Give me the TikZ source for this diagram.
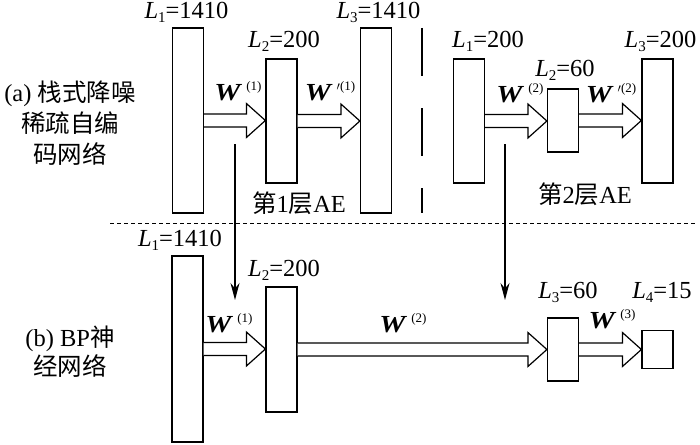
\documentclass[tikz,border=0pt]{standalone}
\usepackage{fontspec}
\setmainfont{Liberation Serif}
\newfontfamily\serifface{Liberation Serif}
\newfontfamily\cjk{Noto Sans CJK SC}
\usetikzlibrary{arrows.meta,calc}
\newcommand\Ll[2]{\textit{L}\raisebox{-4pt}{\fontsize{15}{15}\selectfont #1}=#2}
\newcommand\Wl[1]{\scalebox{1.2}[1]{\textbf{\textit{W}}}\hspace{4pt}\raisebox{10pt}{\fontsize{13}{13}\selectfont #1}}
\newcommand\fatarr[2]{\draw[fat] let \p1=(#1.east), \p2=(#2.west) in
  (\x1,\y1+6.5pt) -- (\x2-19pt,\y1+6.5pt) -- (\x2-19pt,\y1+17pt) -- (\x2,\y1)
  -- (\x2-19pt,\y1-17pt) -- (\x2-19pt,\y1-6.5pt) -- (\x1,\y1-6.5pt);}
\begin{document}
\begin{tikzpicture}[x=1pt,y=-1pt,
  layer/.style={draw, line width=1.2pt, inner sep=0pt, minimum width=31pt},
  lab/.style={font=\serifface\fontsize{24.5}{28}\selectfont, inner sep=0pt, anchor=base},
  fat/.style={draw, line width=1.2pt, line join=miter, fill=white},
  down/.style={line width=1.2pt, -{Stealth[length=17pt,width=9pt]}},
  sep/.style={line width=1pt, dash pattern=on 4pt off 3pt}]
\useasboundingbox (0,0) rectangle (700,444);
% top: first AE
\node[layer, minimum height=185pt] (a1) at (188,120.5) {};
\node[layer, minimum height=124pt] (a2) at (281.5,121) {};
\node[layer, minimum height=185pt] (a3) at (376,120.5) {};
% top: second AE
\node[layer, minimum height=124pt] (c1) at (469,121) {};
\node[layer, minimum height=63pt] (c2) at (563,120.5) {};
\node[layer, minimum height=124pt] (c3) at (657.5,121) {};
% bottom: BP net
\node[layer, minimum height=186pt] (b1) at (187.5,349) {};
\node[layer, minimum height=125pt] (b2) at (281.5,349.5) {};
\node[layer, minimum height=63pt] (b3) at (563,349.5) {};
\node[layer, minimum height=38pt] (b4) at (657.5,349.5) {};
% fat arrows
\fatarr{a1}{a2}
\fatarr{a2}{a3}
\fatarr{c1}{c2}
\fatarr{c2}{c3}
\fatarr{b1}{b2}
\fatarr{b2}{b3}
\fatarr{b3}{b4}
% separators
\coordinate (vs) at (422,28);
\coordinate (ve) at (422,213);
\draw[line width=1.2pt, dash pattern=on 48pt off 32pt] (vs) -- (ve);
\coordinate (hs) at (110,223);
\coordinate (he) at (695,223);
\draw[sep] (hs) -- (he);
% transfer arrows
\coordinate (d1s) at (235,144);
\coordinate (d1e) at (235,300);
\coordinate (d2s) at (505,144);
\coordinate (d2e) at (505,300);
\draw[down] (d1s) -- (d1e);
\draw[down] (d2s) -- (d2e);
% labels top
\node[lab] (la1) at (186.5,19) {\Ll{1}{1410}};
\node[lab] (la2) at (284,48) {\Ll{2}{200}};
\node[lab] (la3) at (378.5,19) {\Ll{3}{1410}};
\node[lab] (lc1) at (488,48) {\Ll{1}{200}};
\node[lab] (lc2) at (565,76) {\Ll{2}{60}};
\node[lab] (lc3) at (660.5,48) {\Ll{3}{200}};
\node[lab] (w1) at (238,100) {\Wl{(1)}};
\node[lab] (w1p) at (330,100) {\Wl{$\prime$(1)}};
\node[lab] (w2) at (520,102) {\Wl{(2)}};
\node[lab] (w2p) at (611,102) {\Wl{$\prime$(2)}};
\node[lab] (ae1) at (299,212) {{\cjk 第}1{\cjk 层}AE};
\node[lab] (ae2) at (585,203) {{\cjk 第}2{\cjk 层}AE};
% labels bottom
\node[lab] (lb1) at (180,246) {\Ll{1}{1410}};
\node[lab] (lb2) at (284,276) {\Ll{2}{200}};
\node[lab] (lb3) at (568,298) {\Ll{3}{60}};
\node[lab] (lb4) at (662,298) {\Ll{4}{15}};
\node[lab] (wb1) at (229,332) {\Wl{(1)}};
\node[lab] (wb2) at (403,332) {\Wl{(2)}};
\node[lab] (wb3) at (612,328) {\Wl{(3)}};
% side titles
\node[lab] (ta1) at (70,101) {(a) {\cjk 栈式降噪}};
\node[lab] (ta2) at (70,132) {\cjk 稀疏自编};
\node[lab] (ta3) at (70,163) {\cjk 码网络};
\node[lab] (tb1) at (70,346) {(b) BP{\cjk 神}};
\node[lab] (tb2) at (70,375) {\cjk 经网络};
\end{tikzpicture}
\end{document}
